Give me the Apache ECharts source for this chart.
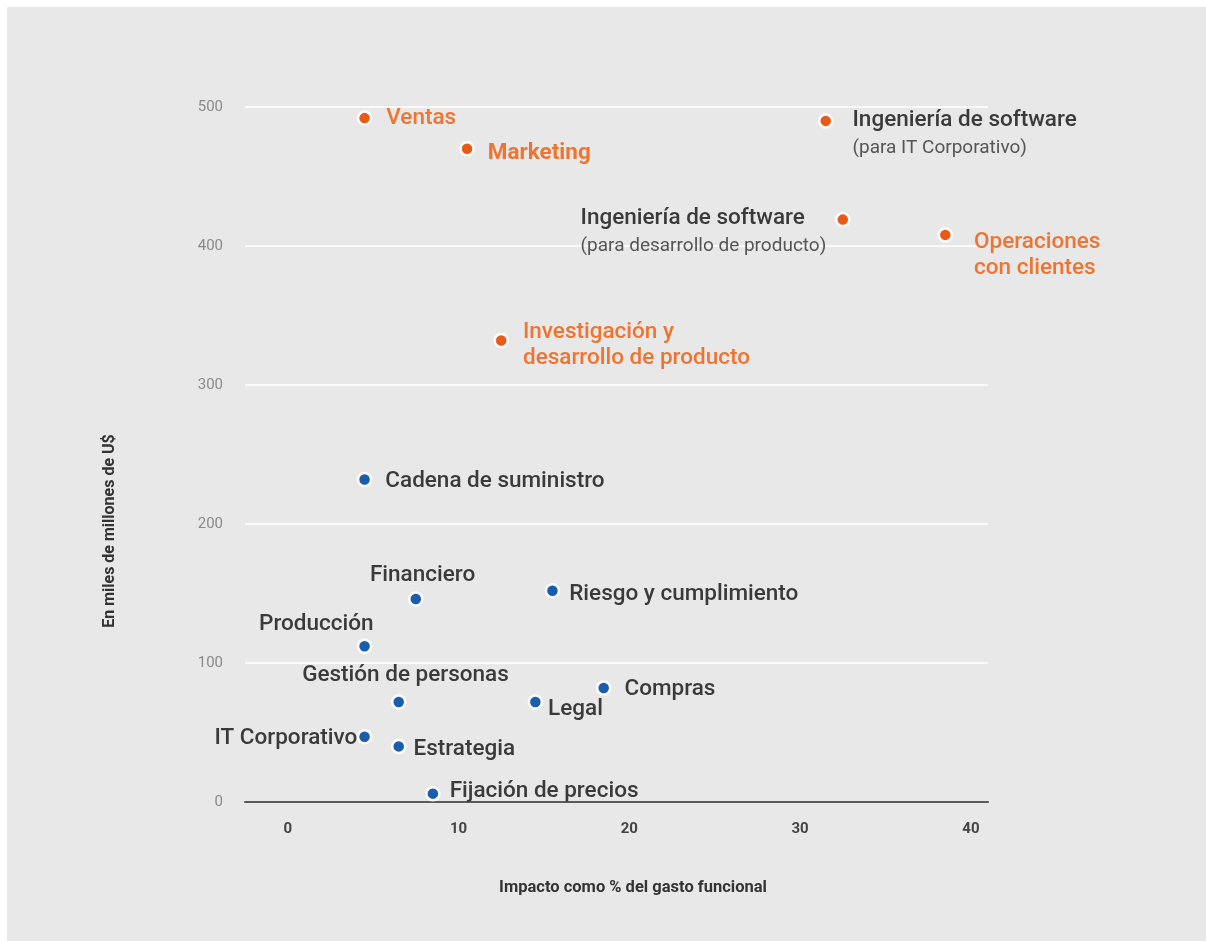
<!DOCTYPE html>
<html>
<head>
<meta charset="utf-8">
<script src="https://cdn.jsdelivr.net/npm/echarts@6/dist/echarts.min.js"></script>
<style>
  html, body { margin: 0; padding: 0; background: #ffffff; }
  #chart { position: absolute; left: 0; top: 0; width: 1206px; height: 941px; }
</style>
</head>
<body>
<div id="chart"></div>
<script>
// ---- Data ----
const names = [
  'Ventas', 'Marketing', 'Ingeniería de software\n(para IT Corporativo)',
  'Ingeniería de software\n(para desarrollo de producto)', 'Operaciones\ncon clientes',
  'Investigación y\ndesarrollo de producto',
  'Cadena de suministro', 'Financiero', 'Riesgo y cumplimiento', 'Producción',
  'Gestión de personas', 'Legal', 'Compras', 'IT Corporativo', 'Estrategia',
  'Fijación de precios'
];
const impactPct = [4.5, 10.5, 31.5, 32.5, 38.5, 12.5, 4.5, 7.5, 15.5, 4.5, 6.5, 14.5, 18.5, 4.5, 6.5, 8.5];
const valueBn   = [492, 470, 490, 419, 408, 332, 232, 146, 152, 112, 72, 72, 82, 47, 40, 6];
const group     = ['top','top','top','top','top','top','low','low','low','low','low','low','low','low','low','low'];
const xTicks = [0, 10, 20, 30, 40];
const yTicks = [0, 100, 200, 300, 400, 500];

// ---- Styles (label anchor relative to point centre) ----
const labelPlace = {
  'Ventas':               { dx: 21,  dy: -1,  align: 'left' },
  'Marketing':            { dx: 20,  dy: 3,   align: 'left', weight: 700 },
  'Ingeniería de software\n(para IT Corporativo)':          { dx: 26, dy: 12, align: 'left', sub: true },
  'Ingeniería de software\n(para desarrollo de producto)':  { dx: -263, dy: 11, align: 'left', sub: true },
  'Operaciones\ncon clientes':          { dx: 28, dy: 19, align: 'left' },
  'Investigación y\ndesarrollo de producto': { dx: 21, dy: 3, align: 'left' },
  'Cadena de suministro': { dx: 20,  dy: 0,   align: 'left' },
  'Financiero':           { dx: 6,   dy: -25, align: 'center' },
  'Riesgo y cumplimiento':{ dx: 16,  dy: 2,   align: 'left' },
  'Producción':           { dx: -49, dy: -24, align: 'center' },
  'Gestión de personas':  { dx: 6,   dy: -28, align: 'center' },
  'Legal':                { dx: 12,  dy: 6,   align: 'left' },
  'Compras':              { dx: 20,  dy: 0,   align: 'left' },
  'IT Corporativo':       { dx: -4,  dy: 0,   align: 'right' },
  'Estrategia':           { dx: 14,  dy: 1,   align: 'left' },
  'Fijación de precios':  { dx: 16,  dy: -4,  align: 'left' }
};
const SYMBOL = 13;
const NUDGE_X = 2, NUDGE_Y = 3;
const ORANGE = '#e85a17';
const ORANGE_TXT = '#ee7431';
const BLUE = '#1b5daa';
const FONT = 'Roboto, "Noto Sans", sans-serif';

function buildPoints(g) {
  const out = [];
  for (let i = 0; i < names.length; i++) {
    if (group[i] !== g) continue;
    const p = labelPlace[names[i]];
    const isTop = g === 'top';
    const txtColor = isTop ? ORANGE_TXT : '#3a3a3a';
    const label = {
      show: true,
      position: [SYMBOL / 2 + p.dx + (p.align === 'right' ? -NUDGE_X : NUDGE_X), SYMBOL / 2 + p.dy + NUDGE_Y],
      align: p.align,
      verticalAlign: 'middle',
      fontFamily: FONT,
      fontSize: 22.5,
      fontWeight: p.weight || 500,
      color: txtColor,
      lineHeight: 26
    };
    if (p.sub) {
      const parts = names[i].split('\n');
      label.formatter = '{a|' + parts[0] + '}\n{b|' + parts[1] + '}';
      label.rich = {
        a: { fontFamily: FONT, fontSize: 22.5, fontWeight: 500, color: '#3a3a3a', lineHeight: 28 },
        b: { fontFamily: FONT, fontSize: 19, fontWeight: 400, color: '#555555', lineHeight: 28 }
      };
    } else {
      label.formatter = names[i];
    }
    out.push({ name: names[i], value: [impactPct[i], valueBn[i]], label: label });
  }
  return out;
}

const chart = echarts.init(document.getElementById('chart'), null, { renderer: 'canvas' });
const option = {
  backgroundColor: 'transparent',
  animation: false,
  grid: { left: 245, right: 218, top: 107, bottom: 139 },
  graphic: [
    { type: 'rect', z: -10, shape: { x: 7, y: 7, width: 1199, height: 934 }, style: { fill: '#e8e8e8' } },
    { type: 'text', x: 110, y: 531, rotation: Math.PI / 2,
      style: { text: 'En miles de millones de U$', fontFamily: FONT, fontSize: 16, fontWeight: 700,
               fill: '#333333', align: 'center', verticalAlign: 'middle' } },
    { type: 'text', x: 633, y: 888,
      style: { text: 'Impacto como % del gasto funcional', fontFamily: FONT, fontSize: 16.5, fontWeight: 700,
               fill: '#333333', align: 'center', verticalAlign: 'middle' } }
  ],
  xAxis: {
    type: 'value',
    min: -2.5,
    max: 41,
    axisLine: { show: true, onZero: false, lineStyle: { color: '#5a5a5a', width: 2 } },
    axisTick: { show: false },
    splitLine: { show: false },
    axisLabel: {
      customValues: xTicks,
      margin: 20,
      fontFamily: FONT, fontSize: 15, fontWeight: 700, color: '#444444'
    }
  },
  yAxis: {
    type: 'value',
    min: 0,
    max: 500,
    interval: 100,
    axisLine: { show: false },
    axisTick: { show: false },
    splitLine: { show: true, lineStyle: { color: '#fafafa', width: 2 } },
    axisLabel: {
      customValues: yTicks,
      margin: 22,
      fontFamily: FONT, fontSize: 15, color: '#8a8a8a'
    }
  },
  series: [
    {
      type: 'scatter',
      symbolSize: SYMBOL,
      itemStyle: { color: ORANGE, borderColor: 'rgba(255,255,255,0.95)', borderWidth: 2.5, opacity: 1 },
      data: buildPoints('top'),
      emphasis: { disabled: true }
    },
    {
      type: 'scatter',
      symbolSize: SYMBOL,
      itemStyle: { color: BLUE, borderColor: 'rgba(255,255,255,0.95)', borderWidth: 2.5, opacity: 1 },
      data: buildPoints('low'),
      emphasis: { disabled: true }
    }
  ]
};
chart.setOption(option);
</script>
</body>
</html>
